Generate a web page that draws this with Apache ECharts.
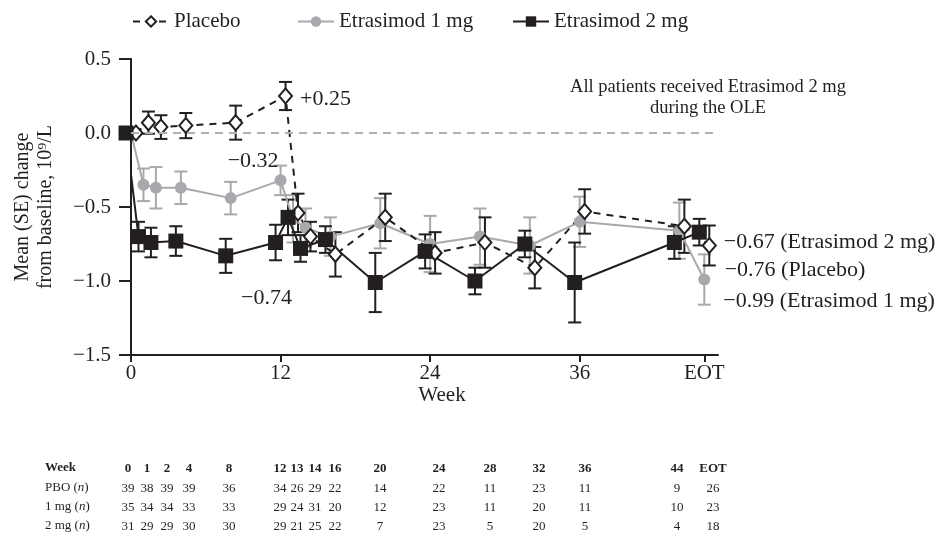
<!DOCTYPE html>
<html><head><meta charset="utf-8">
<script src="https://cdn.jsdelivr.net/npm/echarts@6/dist/echarts.min.js"></script>
<style>html,body{margin:0;padding:0;background:#fff}#c{width:946px;height:540px}</style>
</head><body><div id="c"></div>
<script>
// ---- data ----
const weekLabels = ['0','1','2','4','8','12','13','14','16','20','24','28','32','36','44','EOT'];
const weekValues = [0,1,2,4,8,12,13,14,16,20,24,28,32,36,44,46]; // EOT placed at 46 on the axis

const placeboMean = [0, 0.07, 0.04, 0.05, 0.07, 0.25, -0.54, -0.70, -0.82, -0.57, -0.81, -0.74, -0.91, -0.53, -0.63, -0.76];
const placeboSE   = [0, 0.075, 0.08, 0.085, 0.115, 0.095, 0.13, 0.10, 0.15, 0.16, 0.14, 0.17, 0.14, 0.15, 0.18, 0.135];
const mg1Mean = [0, -0.35, -0.37, -0.37, -0.44, -0.32, -0.58, -0.64, -0.70, -0.61, -0.75, -0.70, -0.76, -0.60, -0.66, -0.99];
const mg1SE   = [0, 0.11, 0.14, 0.11, 0.11, 0.10, 0.16, 0.13, 0.13, 0.17, 0.19, 0.19, 0.19, 0.17, 0.19, 0.17];
const mg2Mean = [0, -0.70, -0.74, -0.73, -0.83, -0.74, -0.57, -0.78, -0.72, -1.01, -0.80, -1.00, -0.75, -1.01, -0.74, -0.67];
const mg2SE   = [0, 0.10, 0.10, 0.10, 0.115, 0.12, 0.12, 0.09, 0.09, 0.20, 0.115, 0.09, 0.09, 0.27, 0.11, 0.09];

const xTickValues = [0, 12, 24, 36, 46];
const xTickLabels = ['0', '12', '24', '36', 'EOT'];
const yTickValues = [-1.5, -1, -0.5, 0, 0.5];

const tableWeek = weekLabels;
const tablePBO = [39,38,39,39,36,34,26,29,22,14,22,11,23,11,9,26];
const table1mg = [35,34,34,33,33,29,24,31,20,12,23,11,20,11,10,23];
const table2mg = [31,29,29,30,30,29,21,25,22,7,23,5,20,5,4,18];

// ---- layout / style ----
const FONT = '"Liberation Serif", "DejaVu Serif", serif';
const INK = '#231f20';
const GREY = '#a7a9ac';
const tableColX = [128,147,167,189,229,280,297,315,335,380,439,490,539,585,677,713];
const tableRowY = [469,489,508,527];
const dodge = {placebo: 0.4, mg1: 0, mg2: -0.4};

function fmtY(v){
  const s = Math.abs(v).toFixed(1);
  return v < 0 ? '\u2212' + s : s;
}
function pts(mean, off){ return weekValues.map((w,i)=>[w+off, mean[i]]); }
function errSeries(name, mean, se, off, color){
  const data = [];
  weekValues.forEach((w,i)=>{ if (se[i] > 0) data.push([w+off, mean[i]-se[i], mean[i]+se[i]]); });
  return {
    type:'custom', name: name, silent:true, data: data, clip:false,
    encode:{x:0, y:[1,2]},
    renderItem(params, api){
      const x = api.value(0);
      const lo = api.coord([x, api.value(1)]);
      const hi = api.coord([x, api.value(2)]);
      const c = 6.5;
      const st = {stroke: color, lineWidth: 2};
      return {type:'group', children:[
        {type:'line', shape:{x1:lo[0], y1:lo[1], x2:hi[0], y2:hi[1]}, style:st},
        {type:'line', shape:{x1:lo[0]-c, y1:lo[1], x2:lo[0]+c, y2:lo[1]}, style:st},
        {type:'line', shape:{x1:hi[0]-c, y1:hi[1], x2:hi[0]+c, y2:hi[1]}, style:st}
      ]};
    }
  };
}
function withLabel(data, idx, text, position, offset){
  return data.map((d,i)=> i===idx ? {value:d, label:{show:true, formatter:text, position:position, offset:offset,
    fontFamily:FONT, fontSize:22, color:INK}} : d);
}

const tableGraphics = [];
const rowLabels = [
  {text:'Week', bold:true},
  {text:'PBO ({i|n})'},
  {text:'1 mg ({i|n})'},
  {text:'2 mg ({i|n})'}
];
const rowsData = [tableWeek, tablePBO, table1mg, table2mg];
rowLabels.forEach((r,ri)=>{
  tableGraphics.push({type:'text', left:45, top:tableRowY[ri]-8, silent:true,
    style:{text:r.text, font:(r.bold?'bold ':'')+'13px '+FONT, fill:INK,
      rich:{i:{fontStyle:'italic', fontFamily:FONT, fontSize:13, fill:INK}}}});
  rowsData[ri].forEach((v,ci)=>{
    tableGraphics.push({type:'text', x:tableColX[ci], y:tableRowY[ri], silent:true,
      style:{text:String(v), font:(ri===0?'bold ':'')+'13px '+FONT, fill:INK, textAlign:'center', textVerticalAlign:'middle'}});
  });
});

const chart = echarts.init(document.getElementById('c'), null, {renderer:'canvas'});
chart.setOption({
  backgroundColor:'#fff',
  animation:false,
  textStyle:{fontFamily:FONT, color:INK},
  grid:{left:131, right:228, top:59, bottom:185},
  legend:[
    {data:['Placebo'], left:127, top:6, itemWidth:36, itemHeight:13, textStyle:{fontFamily:FONT, fontSize:21, color:INK}},
    {data:['Etrasimod 1 mg'], left:292, top:6, itemWidth:36, itemHeight:13, textStyle:{fontFamily:FONT, fontSize:21, color:INK}},
    {data:['Etrasimod 2 mg'], left:507, top:6, itemWidth:36, itemHeight:13, textStyle:{fontFamily:FONT, fontSize:21, color:INK}}
  ],
  xAxis:{
    type:'value', min:0, max:47.1,
    splitLine:{show:false},
    axisLine:{show:true, onZero:false, lineStyle:{color:INK, width:2}},
    axisTick:{show:true, length:7, lineStyle:{color:INK, width:2}, customValues:xTickValues},
    axisLabel:{fontFamily:FONT, fontSize:21, color:INK, margin:8, customValues:xTickValues,
      formatter:(v)=>{ const i = xTickValues.indexOf(v); return i>=0 ? xTickLabels[i] : ''; }}
  },
  yAxis:{
    type:'value', min:-1.5, max:0.5, interval:0.5,
    splitLine:{show:false},
    axisLine:{show:true, lineStyle:{color:INK, width:2}},
    axisTick:{show:true, length:12, lineStyle:{color:INK, width:2}},
    axisLabel:{fontFamily:FONT, fontSize:21, color:INK, margin:20, formatter:fmtY},
    name:'Mean (SE) change\nfrom baseline, 10\u2079/L', nameLocation:'middle', nameGap:74,
    nameTextStyle:{fontFamily:FONT, fontSize:20, color:INK, lineHeight:23}
  },
  graphic:[
    {type:'text', x:442, y:395, silent:true, style:{text:'Week', font:'21px '+FONT, fill:INK, textAlign:'center', textVerticalAlign:'middle'}},
    {type:'text', x:708, y:87, silent:true, style:{text:'All patients received Etrasimod 2 mg', font:'18.5px '+FONT, fill:INK, textAlign:'center', textVerticalAlign:'middle'}},
    {type:'text', x:708, y:108, silent:true, style:{text:'during the OLE', font:'18.5px '+FONT, fill:INK, textAlign:'center', textVerticalAlign:'middle'}}
  ].concat(tableGraphics),
  series:[
    errSeries('e1', mg1Mean, mg1SE, dodge.mg1, GREY),
    {
      type:'line', name:'Etrasimod 1 mg', clip:false,
      data: withLabel(withLabel(pts(mg1Mean, dodge.mg1), 5, '\u22120.32', 'left', [9,-19]), 15, '\u22120.99 (Etrasimod 1 mg)', 'right', [8,22]),
      symbol:'circle', symbolSize:12, showSymbol:true,
      lineStyle:{color:GREY, width:2}, itemStyle:{color:GREY},
      markLine:{silent:true, symbol:'none', label:{show:false}, data:[{yAxis:0}],
        lineStyle:{color:'#b0b0b0', type:[8,6], width:1.8}}
    },
    errSeries('e0', placeboMean, placeboSE, dodge.placebo, INK),
    {
      type:'line', name:'Placebo', clip:false,
      data: withLabel(withLabel(pts(placeboMean, dodge.placebo), 5, '+0.25', 'right', [2,3]), 15, '\u22120.76 (Placebo)', 'right', [3,25]),
      symbol:'diamond', symbolSize:[13,15],
      lineStyle:{color:INK, width:2, type:[7,6]},
      itemStyle:{color:'#fff', borderColor:INK, borderWidth:2}
    },
    errSeries('e2', mg2Mean, mg2SE, dodge.mg2, INK),
    {
      type:'line', name:'Etrasimod 2 mg', clip:false,
      data: withLabel(withLabel(pts(mg2Mean, dodge.mg2), 5, '\u22120.74', 'bottom', [-9,32]), 15, '\u22120.67 (Etrasimod 2 mg)', 'right', [12,10]),
      symbol:'rect', symbolSize:15,
      lineStyle:{color:INK, width:2}, itemStyle:{color:INK}
    }
  ]
});
</script>
</body></html>
